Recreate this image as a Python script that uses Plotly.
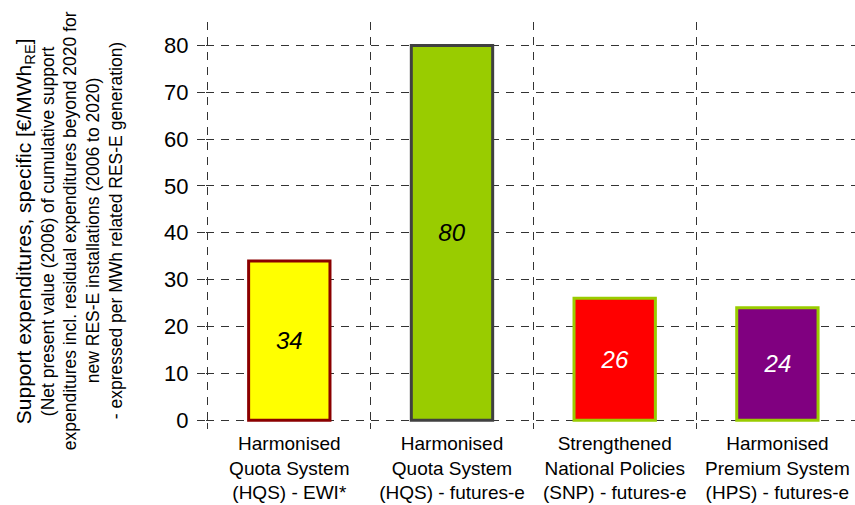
import plotly.graph_objects as go

# Scenario categories and specific support expenditures [EUR/MWh_RE]
categories = [
    "Harmonised<br>Quota System<br>(HQS) - EWI*",
    "Harmonised<br>Quota System<br>(HQS) - futures-e",
    "Strengthened<br>National Policies<br>(SNP) - futures-e",
    "Harmonised<br>Premium System<br>(HPS) - futures-e",
]
values = [34, 80, 26, 24]
fill_colors = ["#FFFF00", "#99CC00", "#FF0000", "#800080"]
line_colors = ["#8B0000", "#404040", "#99CC00", "#99CC00"]
text_colors = ["#000000", "#000000", "#FFFFFF", "#FFFFFF"]
y_ticks = [0, 10, 20, 30, 40, 50, 60, 70, 80]

positions = list(range(len(categories)))
boundaries = [p - 0.5 for p in positions] + [positions[-1] + 0.5]

FONT = "Liberation Sans, Arial, sans-serif"
GRID = "#333333"

fig = go.Figure(
    go.Bar(
        x=positions,
        y=values,
        width=0.5,
        marker=dict(color=fill_colors, line=dict(color=line_colors, width=3)),
        text=[str(v) for v in values],
        textposition="inside",
        insidetextanchor="middle",
        textangle=0,
        textfont=dict(family=FONT, size=24, color=text_colors, style="italic"),
        hoverinfo="skip",
    )
)

# Ranges start a couple of pixels outside the first grid line so the
# dashed grid is also drawn along the left and bottom edges.
fig.update_layout(
    width=855,
    height=505,
    margin=dict(l=206, r=0, t=22, b=83),
    paper_bgcolor="white",
    plot_bgcolor="white",
    showlegend=False,
    font=dict(family=FONT, color="#000000"),
    xaxis=dict(
        range=[-0.512, 3.477],
        automargin=False,
        tickmode="array",
        tickvals=positions,
        ticktext=categories,
        ticks="",
        showgrid=False,
        zeroline=False,
        showline=False,
        tickfont=dict(size=19, color="#000000"),
        ticklabelstandoff=8,
        minor=dict(
            tickmode="array",
            tickvals=boundaries,
            showgrid=True,
            gridcolor=GRID,
            gridwidth=1,
            griddash="8px,7px",
            ticks="outside",
            ticklen=6,
            tickcolor=GRID,
            tickwidth=1,
        ),
    ),
    yaxis=dict(
        range=[-0.4, 85],
        automargin=False,
        tickmode="array",
        tickvals=y_ticks,
        showgrid=True,
        gridcolor=GRID,
        gridwidth=1,
        griddash="8px,7px",
        zeroline=False,
        showline=False,
        ticks="outside",
        ticklen=8,
        tickcolor=GRID,
        tickfont=dict(size=22, color="#000000"),
        ticklabelstandoff=4,
    ),
)

# Rotated multi-line axis description
title_lines = [
    ("Support expenditures, specific [€/MWh<sub>RE</sub>]", 21, -181),
    ("(Net present value (2006) of cumulative support", 17.5, -158),
    ("expenditures incl. residual expenditures beyond 2020 for", 17.5, -136),
    ("new RES-E installations (2006 to 2020)", 17.5, -113),
    ("- expressed per MWh related RES-E generation)", 17.5, -90),
]
for text, size, shift in title_lines:
    fig.add_annotation(
        text=text,
        xref="paper",
        yref="paper",
        x=0,
        y=0.477,
        xanchor="center",
        yanchor="middle",
        xshift=shift,
        textangle=-90,
        showarrow=False,
        font=dict(family=FONT, size=size, color="#000000"),
    )

fig.write_html("out.html")
